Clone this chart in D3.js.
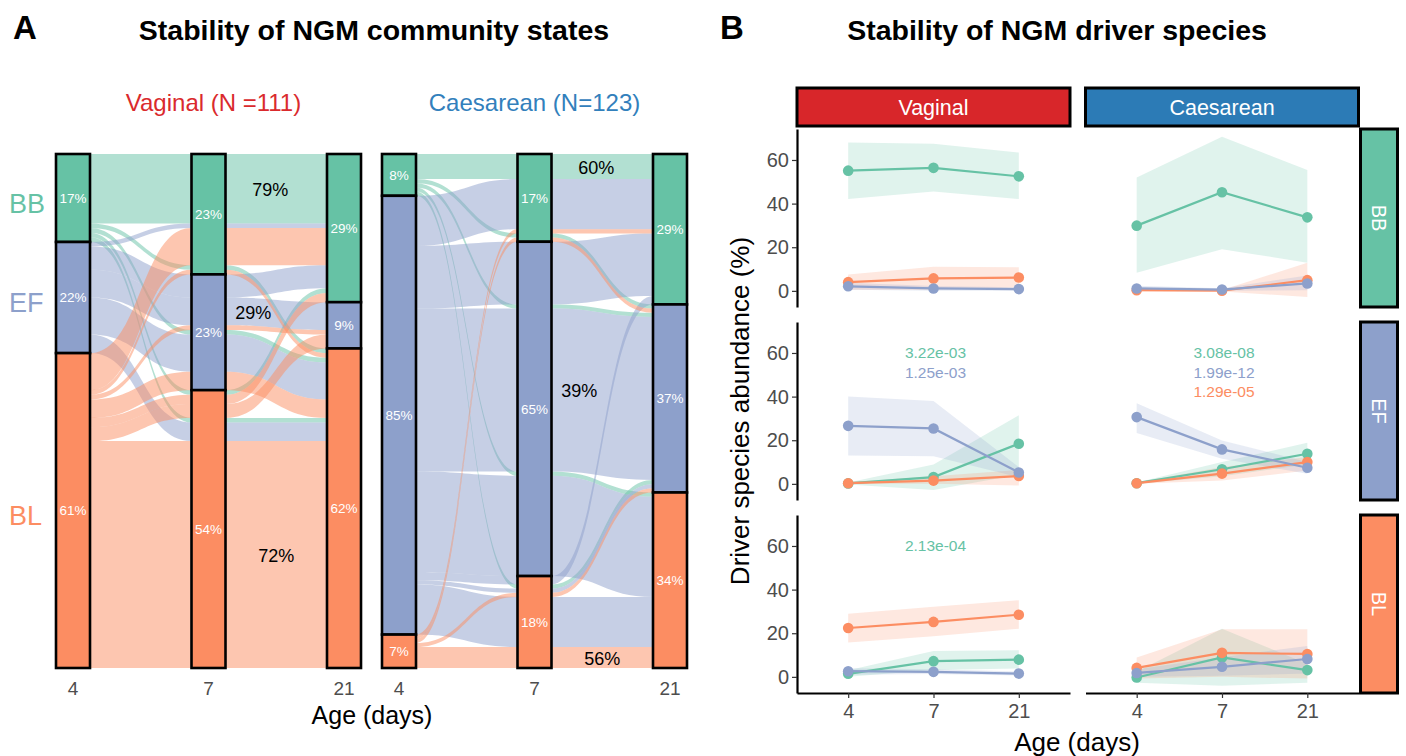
<!DOCTYPE html>
<html><head><meta charset="utf-8">
<script src="https://cdn.jsdelivr.net/npm/d3@7"></script>
<style>
body{margin:0;background:#fff}
svg text{font-family:"Liberation Sans",Arial,Helvetica,sans-serif}
</style>
</head><body>
<svg id="chart" width="1406" height="756"></svg>
<script>
// ---------- shared categories ----------
const states = ["BB","EF","BL"];
const stateColors = ["#66C2A5","#8DA0CB","#FC8D62"];
const days = ["4","7","21"];

// ---------- Panel A: community-state trajectories [day4, day7, day21, n] ----------
const vaginalFlows = [
  ["BB","BB","BB",15],["BB","BB","BL",1],["BB","EF","BL",1],["BB","BL","BB",1],["BB","BL","BL",1],
  ["EF","BB","BB",1],["EF","EF","BB",5],["EF","EF","EF",6],["EF","EF","BL",8],["EF","BL","BL",4],
  ["BL","BB","BB",8],["BL","BB","BL",1],["BL","EF","EF",1],["BL","EF","BL",4],["BL","BL","BB",2],
  ["BL","BL","EF",3],["BL","BL","BL",49]
];
const caesareanFlows = [
  ["BB","BB","BB",6],["BB","BB","EF",1],["BB","EF","EF",1],["BB","EF","BL",1],["BB","BL","EF",1],
  ["EF","BB","BB",12],["EF","EF","BB",15],["EF","EF","EF",39],["EF","EF","BL",24],["EF","BL","BB",2],
  ["EF","BL","EF",1],["EF","BL","BL",12],
  ["BL","BB","BB",1],["BL","BB","EF",1],["BL","BL","EF",1],["BL","BL","BL",5]
];
const groupTitles = ["Vaginal (N =111)","Caesarean (N=123)"];
const groupColors = ["#DA2A2D","#3280BC"];
// stability labels: [state, percent]
const vaginalStability = [["BB","79%"],["EF","29%"],["BL","72%"]];
const caesareanStability = [["BB","60%"],["EF","39%"],["BL","56%"]];

// ---------- Panel B: driver species abundance (mean, lower, upper) per facet ----------
const facetRows = ["BB","EF","BL"];
const facetCols = ["Vaginal","Caesarean"];
const seriesOrder = ["BB","BL","EF"];
const vaginal_BB = {
  BB:{mean:[55.1,56.4,52.5], lo:[42.1,45.5,42.1], hi:[68,67.4,63.4]},
  BL:{mean:[4.0,5.7,6.1], lo:[0.5,0.5,1.5], hi:[7.5,11,10.8]},
  EF:{mean:[2.1,1.1,0.8], lo:[0.5,0,0], hi:[3.7,2.2,1.7]}
};
const caesarean_BB = {
  BB:{mean:[29.9,45.2,33.7], lo:[8.3,19.1,12.9], hi:[52,70.7,55.4]},
  BL:{mean:[0.3,0.1,4.9], lo:[-0.2,-0.3,-2.8], hi:[1,0.4,12.9]},
  EF:{mean:[1.1,0.6,3.4], lo:[0,0,0.3], hi:[2.3,1.2,7]}
};
const vaginal_EF = {
  BB:{mean:[0.2,3.1,18.4], lo:[-0.3,-2.8,4.3], hi:[0.6,8.9,31.4]},
  BL:{mean:[0.3,1.5,3.6], lo:[0,0,-0.8], hi:[0.7,3.5,6.4]},
  EF:{mean:[26.6,25.4,5.2], lo:[13,12.7,3], hi:[40.1,38,7.7]}
};
const caesarean_EF = {
  BB:{mean:[0.3,6.7,13.8], lo:[0,3.5,8.9], hi:[0.6,10,18.8]},
  BL:{mean:[0.3,4.7,10], lo:[0,1.5,6.1], hi:[0.6,7.7,12.3]},
  EF:{mean:[30.6,15.8,7.4], lo:[23.3,11.5,4.6], hi:[37,19.9,10]}
};
const vaginal_BL = {
  BB:{mean:[1.4,7.2,7.9], lo:[0,3.1,3.8], hi:[3,11.9,12.2]},
  BL:{mean:[22.4,25.2,28.5], lo:[15.7,18.6,22.1], hi:[28.9,32.1,35.1]},
  EF:{mean:[2.6,2.3,1.5], lo:[1,1.3,0.6], hi:[4,3.5,2.4]}
};
const caesarean_BL = {
  BB:{mean:[-0.3,8.9,3.1], lo:[-2.7,-4.1,-2.7], hi:[2.3,22.1,6]},
  BL:{mean:[4.1,11,10.5], lo:[-0.8,0,-0.8], hi:[8.9,21.8,21.8]},
  EF:{mean:[1.8,4.6,8.2], lo:[0,0.5,1.5], hi:[3.5,9,14.2]}
};
// p-values: [row, col, series, text]
const pValues = [
  ["EF","Vaginal","BB","3.22e-03"],["EF","Vaginal","EF","1.25e-03"],
  ["EF","Caesarean","BB","3.08e-08"],["EF","Caesarean","EF","1.99e-12"],["EF","Caesarean","BL","1.29e-05"],
  ["BL","Vaginal","BB","2.13e-04"]
];
const yTicks = [0,20,40,60];

// ================= drawing =================
const svg = d3.select("#chart");
const color = d3.scaleOrdinal().domain(states).range(stateColors);
const sIdx = s => states.indexOf(s);

// titles
svg.append("text").attr("x",13).attr("y",39).attr("font-size",33).attr("font-weight","bold").text("A");
svg.append("text").attr("x",374).attr("y",40).attr("text-anchor","middle").attr("font-size",28.5).attr("font-weight","bold").text("Stability of NGM community states");
svg.append("text").attr("x",720).attr("y",39).attr("font-size",33).attr("font-weight","bold").text("B");
svg.append("text").attr("x",1057).attr("y",40).attr("text-anchor","middle").attr("font-size",28.5).attr("font-weight","bold").text("Stability of NGM driver species");

// ---------- Panel A ----------
const barW = 34;
const yTop = 154, yBot = 668;
const groupsA = [
  {flows:vaginalFlows, range:[73,344], title:groupTitles[0], tcol:groupColors[0], stab:vaginalStability, hdx:5},
  {flows:caesareanFlows, range:[399,670], title:groupTitles[1], tcol:groupColors[1], stab:caesareanStability, hdx:0}
];
const keyOrder = [[1,2],[2,0],[1,0]];
const stabDx = {BB:-6, EF:-23, BL:0};

groupsA.forEach((g, gi) => {
  const N = d3.sum(g.flows, f => f[3]);
  const x = d3.scalePoint().domain(days).range(g.range);
  const y = d3.scaleLinear().domain([0, N]).range([yTop, yBot]);
  const flows = g.flows.map(f => ({s:[f[0],f[1],f[2]], n:f[3], pos:[]}));
  const strata = [];
  for (let k = 0; k < 3; k++) {
    let acc = 0;
    states.forEach(st => {
      const mem = flows.filter(f => f.s[k] === st).sort((a,b) => {
        const [k1,k2] = keyOrder[k];
        return (sIdx(a.s[k1]) - sIdx(b.s[k1])) || (sIdx(a.s[k2]) - sIdx(b.s[k2]));
      });
      const start = acc;
      mem.forEach(m => { m.pos[k] = [acc, acc + m.n]; acc += m.n; });
      strata.push({k, st, y0:start, y1:acc, n:acc-start});
    });
  }
  const gA = svg.append("g");
  // flows
  flows.forEach(f => {
    for (let k = 0; k < 2; k++) {
      const x0 = x(days[k]) + barW/2, x1 = x(days[k+1]) - barW/2, xm = (x0+x1)/2;
      const a0 = y(f.pos[k][0]), a1 = y(f.pos[k][1]);
      const b0 = y(f.pos[k+1][0]), b1 = y(f.pos[k+1][1]);
      const p = d3.path();
      p.moveTo(x0-1, a0); p.lineTo(x0, a0);
      p.bezierCurveTo(xm, a0, xm, b0, x1, b0);
      p.lineTo(x1+1, b0); p.lineTo(x1+1, b1); p.lineTo(x1, b1);
      p.bezierCurveTo(xm, b1, xm, a1, x0, a1);
      p.lineTo(x0-1, a1); p.closePath();
      gA.append("path").attr("d", p.toString()).attr("fill", color(f.s[0])).attr("fill-opacity",0.5);
    }
  });
  // strata
  strata.forEach(s => {
    if (s.n === 0) return;
    gA.append("rect").attr("x", x(days[s.k]) - barW/2).attr("y", y(s.y0))
      .attr("width", barW).attr("height", y(s.y1) - y(s.y0))
      .attr("fill", color(s.st)).attr("stroke","#000").attr("stroke-width",2.6);
    gA.append("text").attr("x", x(days[s.k])).attr("y", (y(s.y0)+y(s.y1))/2)
      .attr("dy","0.35em").attr("text-anchor","middle").attr("fill","#fff").attr("font-size",13.5)
      .text(Math.round(100*s.n/N) + "%");
  });
  // stability labels, placed in the 7->21 gap at the center of the stable band
  g.stab.forEach(([st, lab]) => {
    const f = flows.find(ff => ff.s[0]===st && ff.s[1]===st && ff.s[2]===st);
    const xm = (x("7") + x("21"))/2 + stabDx[st];
    const yc = (y(f.pos[1][0]) + y(f.pos[1][1]))/2;
    gA.append("text").attr("x", xm).attr("y", yc).attr("dy","0.4em").attr("text-anchor","middle")
      .attr("font-size",18).attr("fill","#000").text(lab);
  });
  // group header
  svg.append("text").attr("x", (g.range[0]+g.range[1])/2 + g.hdx).attr("y",111)
    .attr("text-anchor","middle").attr("font-size",24).attr("fill", g.tcol).text(g.title);
  // x ticks
  days.forEach(d => {
    svg.append("text").attr("x", x(d)).attr("y", 695).attr("text-anchor","middle")
      .attr("font-size",19).attr("fill","#4D4D4D").text(d);
  });
  // left state labels (first group only)
  if (gi === 0) {
    strata.filter(s => s.k === 0).forEach(s => {
      svg.append("text").attr("x", 9).attr("y", (y(s.y0)+y(s.y1))/2).attr("dy","0.55em")
        .attr("font-size",27).attr("fill", color(s.st)).text(s.st);
    });
  }
});
svg.append("text").attr("x",372).attr("y",724).attr("text-anchor","middle").attr("font-size",25).text("Age (days)");

// ---------- Panel B ----------
const facetData = {
  "Vaginal|BB":vaginal_BB, "Caesarean|BB":caesarean_BB,
  "Vaginal|EF":vaginal_EF, "Caesarean|EF":caesarean_EF,
  "Vaginal|BL":vaginal_BL, "Caesarean|BL":caesarean_BL
};
const colX0 = [797, 1085.5], panW = 273;
const rowY0 = [129, 322, 515], panH = 178;
const stripFill = {Vaginal:"#D8262A", Caesarean:"#2C7BB6"};
const gB = svg.append("g");

facetCols.forEach((c, ci) => {
  const xs = d3.scalePoint().domain(days).range([colX0[ci], colX0[ci]+panW]).padding(0.6);
  facetRows.forEach((r, ri) => {
    const ys = d3.scaleLinear().domain([-7.4, 74.2]).range([rowY0[ri]+panH, rowY0[ri]]);
    const data = facetData[c + "|" + r];
    const g = gB.append("g");
    const area = d3.area().x((d,i) => xs(days[i])).y0(d => ys(d[0])).y1(d => ys(d[1]));
    const line = d3.line().x((d,i) => xs(days[i])).y(d => ys(d));
    seriesOrder.forEach(s => {
      const sd = data[s];
      g.append("path").datum(sd.lo.map((v,i) => [v, sd.hi[i]])).attr("d", area)
        .attr("fill", color(s)).attr("fill-opacity",0.2);
    });
    seriesOrder.forEach(s => {
      g.append("path").datum(data[s].mean).attr("d", line).attr("fill","none")
        .attr("stroke", color(s)).attr("stroke-width",2.2);
    });
    seriesOrder.forEach(s => {
      g.selectAll(null).data(data[s].mean).enter().append("circle")
        .attr("cx", (d,i) => xs(days[i])).attr("cy", d => ys(d)).attr("r",5.3).attr("fill", color(s));
    });
    // p-values
    const pv = pValues.filter(p => p[0]===r && p[1]===c);
    pv.forEach((p, j) => {
      g.append("text").attr("x", xs("7") + 2).attr("y", ys(60) + j*19.5)
        .attr("dy","0.35em").attr("text-anchor","middle").attr("font-size",15.5)
        .attr("fill", color(p[2])).text(p[3]);
    });
    // y axis (first column only)
    if (ci === 0) {
      const ax = g.append("g").attr("transform", `translate(${colX0[ci]},0)`)
        .call(d3.axisLeft(ys).tickValues(yTicks).tickSize(5).tickSizeOuter(0));
      ax.select(".domain").attr("stroke","#000").attr("stroke-width",2.2);
      ax.selectAll(".tick line").attr("stroke","#333").attr("stroke-width",1.2);
      ax.selectAll(".tick text").attr("font-size",20).attr("fill","#4D4D4D").attr("x",-8)
        .style("font-family","'Liberation Sans',Arial,sans-serif");
    }
    // x axis (bottom row only)
    if (ri === 2) {
      const ax = g.append("g").attr("transform", `translate(0,${rowY0[ri]+panH})`)
        .call(d3.axisBottom(xs).tickSize(5).tickSizeOuter(0));
      ax.select(".domain").attr("stroke","#000").attr("stroke-width",2.2);
      ax.selectAll(".tick line").attr("stroke","#333").attr("stroke-width",1.2);
      ax.selectAll(".tick text").attr("font-size",20).attr("fill","#4D4D4D").attr("y",11)
        .style("font-family","'Liberation Sans',Arial,sans-serif");
    }
    // right strips
    if (ci === 1) {
      const sx = colX0[1] + panW + 2;
      gB.append("rect").attr("x", sx).attr("y", rowY0[ri]).attr("width",37).attr("height",panH)
        .attr("fill", color(r)).attr("stroke","#000").attr("stroke-width",3);
      gB.append("text").attr("transform", `translate(${sx+18.5},${rowY0[ri]+panH/2}) rotate(90)`)
        .attr("text-anchor","middle").attr("dy","0.35em").attr("font-size",20).attr("fill","#fff").text(r);
    }
  });
  // top strips
  gB.append("rect").attr("x", colX0[ci]).attr("y",88).attr("width",panW).attr("height",38)
    .attr("fill", stripFill[c]).attr("stroke","#000").attr("stroke-width",3);
  gB.append("text").attr("x", colX0[ci]+panW/2).attr("y",107).attr("dy","0.35em")
    .attr("text-anchor","middle").attr("font-size",21.5).attr("fill","#fff").text(c);
});
gB.append("text").attr("transform","translate(749,411) rotate(-90)")
  .attr("text-anchor","middle").attr("font-size",26).text("Driver species abundance (%)");
gB.append("text").attr("x",1077).attr("y",751).attr("text-anchor","middle")
  .attr("font-size",26).text("Age (days)");
</script>
</body></html>
